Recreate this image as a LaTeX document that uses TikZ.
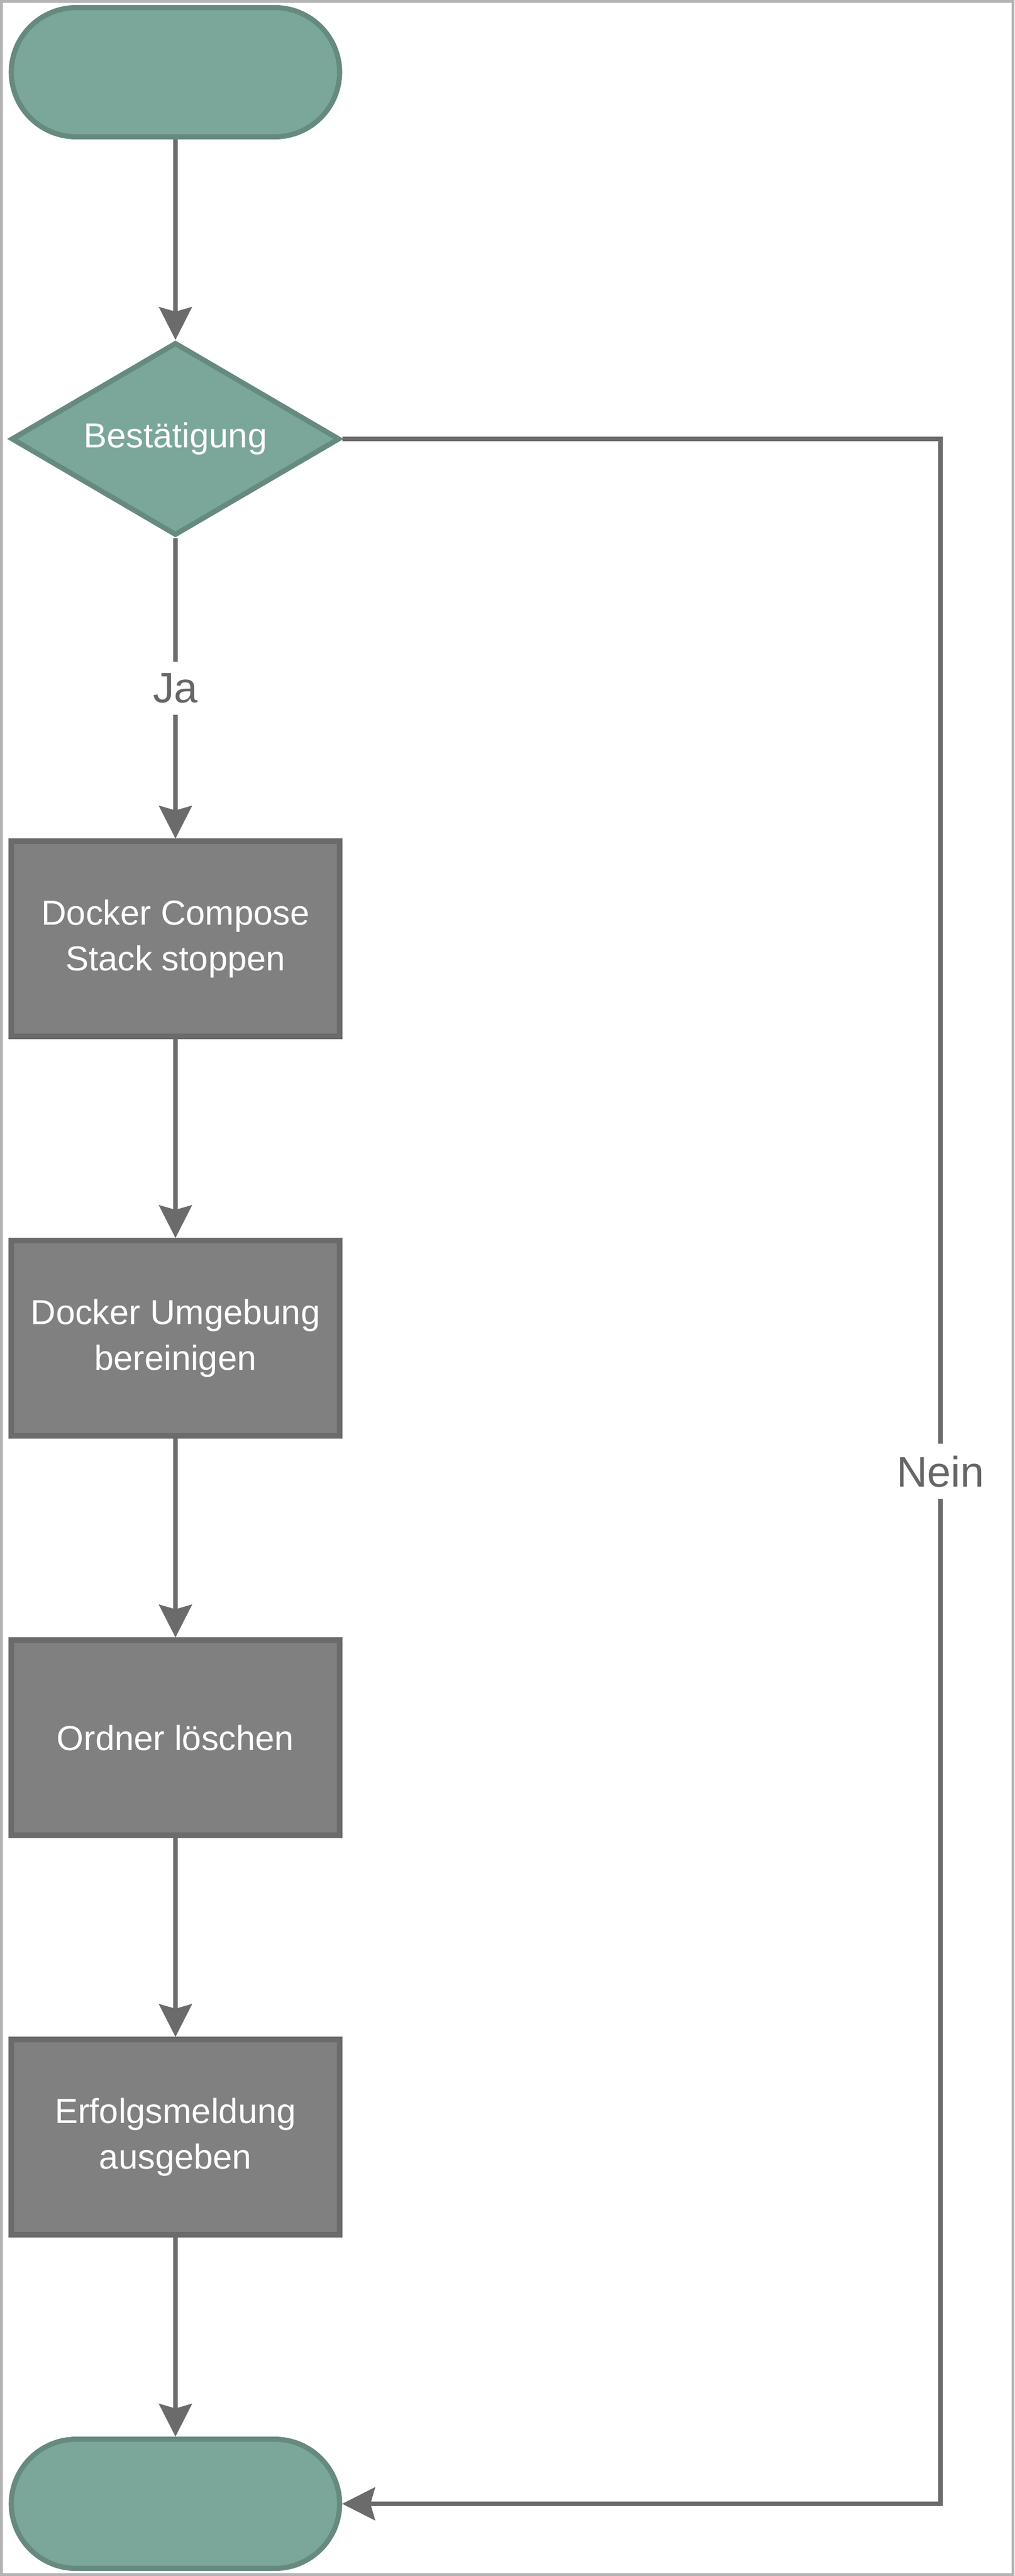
\documentclass[tikz,border=0pt]{standalone}
\usepackage{fontspec}
\setmainfont{Liberation Sans}
\usetikzlibrary{positioning,arrows.meta,shapes.geometric}

\definecolor{tealfill}{HTML}{7BA69A}
\definecolor{tealline}{HTML}{668A80}
\definecolor{boxfill}{HTML}{808080}
\definecolor{boxline}{HTML}{6B6B6B}
\definecolor{arrowgray}{HTML}{6B6B6B}
\definecolor{labelgray}{HTML}{666666}
\definecolor{framegray}{HTML}{B3B3B3}

\begin{document}
\begin{tikzpicture}[
	term/.style={draw=tealline,fill=tealfill,line width=2.6pt,rectangle,rounded corners=1.15cm,minimum width=5.82cm,minimum height=2.29cm},
	decide/.style={draw=tealline,fill=tealfill,line width=2.6pt,diamond,aspect=1.7,inner sep=0pt,minimum width=5.82cm,minimum height=3.42cm,text=white,font=\fontsize{17.5}{23}\selectfont},
	stepbox/.style={draw=boxline,fill=boxfill,line width=2.6pt,rectangle,minimum width=5.82cm,minimum height=3.46cm,text=white,align=center,font=\fontsize{17.5}{23}\selectfont},
	flow/.style={draw=arrowgray,line width=2.2pt,-{Stealth[length=5.8mm,width=5.8mm,inset=0.8mm]}},
	lbl/.style={fill=white,text=labelgray,inner sep=6pt,font=\fontsize{21.5}{26}\selectfont}]

		\useasboundingbox (0,0) rectangle (17.98,-45.66);
		\draw[framegray,line width=0.05cm] (0.025,-0.025) rectangle (17.955,-45.635);

		%left column
		\node[term] (n1) at (3.11,-1.28) {};
		\node[decide] (n2) at (3.11,-7.78) {Bestätigung};
		\node[stepbox] (n3) at (3.11,-16.64) {Docker Compose\\Stack stoppen};
		\node[stepbox] (n4) at (3.11,-23.72) {Docker Umgebung\\bereinigen};
		\node[stepbox] (n5) at (3.11,-30.80) {Ordner löschen};
		\node[stepbox] (n6) at (3.11,-37.88) {Erfolgsmeldung\\ausgeben};
		\node[term] (n7) at (3.11,-44.38) {};

		%right corners
		\coordinate (k1) at (16.67,-7.78);
		\coordinate (k2) at (16.67,-44.38);

		%edges
		\draw[flow] (n1) -- (n2);
		\draw[flow] (n2) -- node[lbl] {Ja} (n3);
		\draw[flow] (n3) -- (n4);
		\draw[flow] (n4) -- (n5);
		\draw[flow] (n5) -- (n6);
		\draw[flow] (n6) -- (n7);
		\draw[flow] (n2.east) -- (k1) -- node[lbl] {Nein} (k2) -- (n7.east);

\end{tikzpicture}
\end{document}
